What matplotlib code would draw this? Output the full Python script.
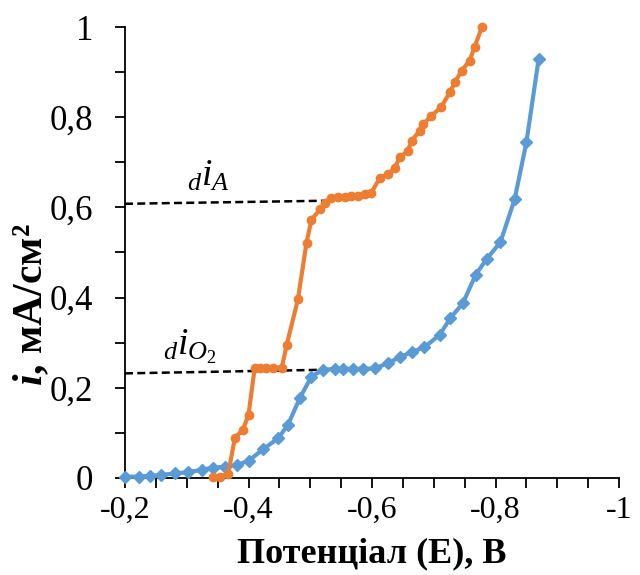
import matplotlib
matplotlib.use("Agg")
import matplotlib.pyplot as plt
from matplotlib.ticker import MultipleLocator, FuncFormatter

plt.rcParams['font.family'] = ['Liberation Serif', 'DejaVu Serif']
plt.rcParams['mathtext.fontset'] = 'custom'
plt.rcParams['mathtext.rm'] = 'Liberation Serif'
plt.rcParams['mathtext.it'] = 'Liberation Serif:italic'
plt.rcParams['mathtext.bf'] = 'Liberation Serif:bold:italic'

# Blue series (diamonds)
blue_x = [-0.200, -0.222, -0.240, -0.259, -0.281, -0.302, -0.324, -0.343, -0.362,
          -0.381, -0.400, -0.424, -0.448, -0.464, -0.483, -0.502, -0.521, -0.540,
          -0.553, -0.569, -0.586, -0.605, -0.626, -0.645, -0.664, -0.685, -0.710,
          -0.727, -0.747, -0.768, -0.786, -0.808, -0.831, -0.850, -0.870]
blue_y = [0.003, 0.003, 0.005, 0.007, 0.010, 0.013, 0.018, 0.023, 0.025,
          0.029, 0.038, 0.064, 0.088, 0.118, 0.177, 0.225, 0.240, 0.242,
          0.242, 0.242, 0.242, 0.243, 0.255, 0.268, 0.279, 0.290, 0.318,
          0.355, 0.387, 0.451, 0.486, 0.523, 0.618, 0.744, 0.930]

# Orange series (circles)
orange_x = [-0.343, -0.354, -0.367, -0.378, -0.391, -0.400, -0.410, -0.418, -0.429,
            -0.440, -0.454, -0.462, -0.480, -0.494, -0.502, -0.516, -0.524, -0.534,
            -0.545, -0.556, -0.566, -0.577, -0.588, -0.599, -0.613, -0.626, -0.637,
            -0.645, -0.658, -0.664, -0.677, -0.683, -0.696, -0.712, -0.726, -0.734,
            -0.745, -0.758, -0.766, -0.778]
orange_y = [0.003, 0.003, 0.009, 0.089, 0.107, 0.140, 0.244, 0.245, 0.245,
            0.245, 0.245, 0.296, 0.396, 0.522, 0.573, 0.596, 0.610, 0.621,
            0.623, 0.624, 0.625, 0.625, 0.629, 0.633, 0.666, 0.673, 0.688,
            0.711, 0.725, 0.747, 0.770, 0.784, 0.803, 0.822, 0.855, 0.877,
            0.903, 0.925, 0.955, 1.000]

# Limiting current guide lines
dA_x = [-0.200, -0.535]
dA_y = [0.608, 0.615]
dO2_x = [-0.200, -0.522]
dO2_y = [0.232, 0.240]

x_major = [-0.2, -0.4, -0.6, -0.8, -1.0]
y_major = [0, 0.2, 0.4, 0.6, 0.8, 1.0]

blue = '#5B9BD5'
orange = '#ED7D31'

fig = plt.figure(figsize=(6.4, 5.75), dpi=100)
ax = fig.add_axes([125/640, 1 - 478/575, (619-125)/640, (478-27)/575])

ax.plot(dA_x, dA_y, color='black', lw=1.8, ls=(0, (3.2, 1.7)), zorder=2)
ax.plot(dO2_x, dO2_y, color='black', lw=1.8, ls=(0, (3.2, 1.7)), zorder=2)

ax.plot(blue_x, blue_y, color=blue, lw=3.0, marker='D', ms=6.5, clip_on=False, zorder=3)
ax.plot(orange_x, orange_y, color=orange, lw=3.0, marker='o', ms=6, clip_on=False, zorder=4)

ax.set_xlim(-0.2, -1.0)
ax.set_ylim(0, 1.0)

ax.xaxis.set_major_locator(plt.FixedLocator(x_major))
ax.xaxis.set_minor_locator(MultipleLocator(0.05))
ax.yaxis.set_major_locator(plt.FixedLocator(y_major))
ax.yaxis.set_minor_locator(MultipleLocator(0.1))

def fmt(v, pos):
    s = ('%.1f' % v).rstrip('0').rstrip('.')
    if s in ('-0', '0.', ''):
        s = '0'
    return s.replace('.', ',')

ax.xaxis.set_major_formatter(FuncFormatter(fmt))
ax.yaxis.set_major_formatter(FuncFormatter(fmt))

for s in ('top', 'right'):
    ax.spines[s].set_visible(False)
for s in ('left', 'bottom'):
    ax.spines[s].set_linewidth(1.3)

ax.tick_params(axis='both', which='both', direction='out', width=1.3, length=7, color='black')
ax.tick_params(axis='x', which='major', labelsize=23, pad=6)
ax.tick_params(axis='y', which='major', labelsize=25, pad=16)

ax.set_xlabel('Потенціал (E), В', fontsize=26, fontweight='bold')
ax.xaxis.set_label_coords(0.5, -0.132)
ax.set_ylabel(r'$\mathbf{i}$, мА/см²', fontsize=30, fontweight='bold')
ax.yaxis.set_label_coords(-0.15, 0.385)

ax.text(-0.335, 0.668, r'$_{d}i_{A}$', fontsize=27, ha='center', va='center')
ax.text(-0.305, 0.29, r'$_{d}i_{O_2}$', fontsize=27, ha='center', va='center')

fig.savefig('out.png', dpi=100)
